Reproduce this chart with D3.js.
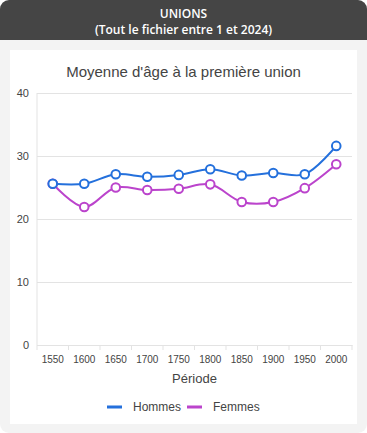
<!DOCTYPE html>
<html lang="fr">
  <head>
    <meta charset="UTF-8" />
    <title>Unions</title>
    <script src="https://d3js.org/d3.v7.min.js"></script>
    <style>
      html,
      body {
        margin: 0;
        padding: 0;
        background: #fff;
      }
      #card {
        position: absolute;
        left: 0;
        top: 0;
        width: 367px;
        height: 433px;
        background: #f3f3f3;
        border-radius: 9px;
        overflow: hidden;
      }
      #head {
        height: 40px;
        background: #454545;
        color: #fff;
        font-family: "Open Sans", "Noto Sans", sans-serif;
        font-weight: 600;
        font-size: 12px;
        text-align: center;
        line-height: 16px;
        padding-top: 6px;
        box-sizing: border-box;
      }
      #chart {
        position: absolute;
        left: 10px;
        top: 50px;
      }
    </style>
  </head>
  <body>
    <div id="card">
      <div id="head">UNIONS<br />(Tout le fichier entre 1 et 2024)</div>
      <svg id="chart"></svg>
    </div>
    <script>
      // data
      const periods = ["1550", "1600", "1650", "1700", "1750", "1800", "1850", "1900", "1950", "2000"];
      const hommes = [25.6, 25.6, 27.1, 26.7, 27.0, 27.9, 26.9, 27.3, 27.1, 31.6];
      const femmes = [25.6, 21.9, 25.0, 24.6, 24.8, 25.5, 22.7, 22.7, 24.9, 28.7];
      const yTicks = [0, 10, 20, 30, 40];

      const series = [
        { name: "Hommes", values: hommes, color: "#2470dc" },
        { name: "Femmes", values: femmes, color: "#bb44cc" },
      ];

      const W = 347, H = 374;
      const ox = 10, oy = 50; // panel offset in the page
      const pLeft = 37 - ox, pRight = 352 - ox, pTop = 93 - oy, pBottom = 345 - oy;

      const svg = d3.select("#chart").attr("width", W).attr("height", H);
      svg.append("rect").attr("width", W).attr("height", H).attr("fill", "#fff");

      const x = d3.scaleBand().domain(periods).range([pLeft, pRight]);
      const y = d3.scaleLinear().domain([0, 40]).range([pBottom, pTop]);

      const font = "'Liberation Sans', Arial, sans-serif";

      // title
      svg.append("text")
        .attr("x", W / 2)
        .attr("y", 77 - oy)
        .attr("text-anchor", "middle")
        .attr("font-family", font)
        .attr("font-size", 15)
        .attr("fill", "#444")
        .text("Moyenne d'âge à la première union");

      // gridlines + y labels
      const yAxis = svg.append("g")
        .attr("transform", `translate(${pLeft},0)`)
        .call(d3.axisLeft(y).tickValues(yTicks).tickSize(-(pRight - pLeft)).tickPadding(8));
      yAxis.select(".domain").remove();
      yAxis.selectAll("line").attr("stroke", "#e3e3e3");
      yAxis.selectAll("text")
        .attr("font-family", font)
        .attr("font-size", 11)
        .attr("fill", "#444");

      // left axis line
      svg.append("line")
        .attr("x1", pLeft).attr("x2", pLeft)
        .attr("y1", pTop).attr("y2", pBottom)
        .attr("stroke", "#e3e3e3");

      // x axis
      const xAxis = svg.append("g")
        .attr("transform", `translate(0,${pBottom})`)
        .call(d3.axisBottom(x).tickSize(0).tickPadding(11));
      xAxis.select(".domain").attr("stroke", "#e3e3e3");
      xAxis.selectAll("text")
        .attr("font-family", font)
        .attr("font-size", 10)
        .attr("fill", "#444");
      // small separators between bands
      xAxis.selectAll(".sep")
        .data(d3.range(periods.length + 1))
        .enter()
        .append("line")
        .attr("class", "sep")
        .attr("x1", (i) => pLeft + i * x.step())
        .attr("x2", (i) => pLeft + i * x.step())
        .attr("y1", 0)
        .attr("y2", 5)
        .attr("stroke", "#e3e3e3");

      svg.append("text")
        .attr("x", (pLeft + pRight) / 2)
        .attr("y", 383 - oy)
        .attr("text-anchor", "middle")
        .attr("font-family", font)
        .attr("font-size", 13)
        .attr("fill", "#444")
        .text("Période");

      // lines
      const line = d3.line()
        .x((d, i) => x(periods[i]) + x.bandwidth() / 2)
        .y((d) => y(d))
        .curve(d3.curveCatmullRom.alpha(0.5));

      series.slice().reverse().forEach((s) => {
        svg.append("path")
          .attr("d", line(s.values))
          .attr("fill", "none")
          .attr("stroke", s.color)
          .attr("stroke-width", 2);
      });
      series.slice().reverse().forEach((s) => {
        svg.selectAll(null)
          .data(s.values)
          .enter()
          .append("circle")
          .attr("cx", (d, i) => x(periods[i]) + x.bandwidth() / 2)
          .attr("cy", (d) => y(d))
          .attr("r", 4.3)
          .attr("fill", "#fff")
          .attr("stroke", s.color)
          .attr("stroke-width", 2);
      });

      // legend
      const legendX = [107 - ox, 187 - ox];
      const legend = svg.selectAll(".legend")
        .data(series)
        .enter()
        .append("g")
        .attr("class", "legend")
        .attr("transform", (d, i) => `translate(${legendX[i]},${407 - oy})`);
      legend.append("line")
        .attr("x1", 0).attr("x2", 15)
        .attr("stroke", (d) => d.color)
        .attr("stroke-width", 3);
      legend.append("text")
        .attr("x", 26)
        .attr("y", 4)
        .attr("font-family", font)
        .attr("font-size", 12)
        .attr("fill", "#444")
        .text((d) => d.name);
    </script>
  </body>
</html>
